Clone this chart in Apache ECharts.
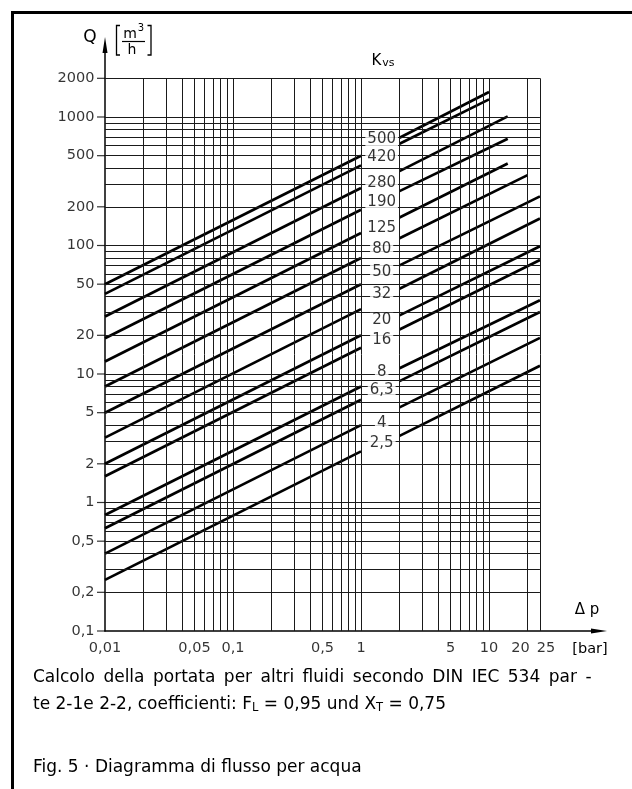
<!DOCTYPE html>
<html><head><meta charset="utf-8">
<script src="https://cdn.jsdelivr.net/npm/echarts@6/dist/echarts.min.js"></script>
<style>html,body{margin:0;padding:0;background:#fff}#c{width:632px;height:789px}</style>
</head><body><div id="c"></div>
<script>
// ---- data ----
const kvsLabels   = ['500','420','280','190','125','80','50','32','20','16','8','6,3','4','2,5'];
const leftDp      = [0.01, 1];
const leftQStart  = [50, 42, 28, 19, 12.5, 8, 5, 3.2, 2, 1.6, 0.8, 0.63, 0.4, 0.25];
const leftQEnd    = [500, 420, 280, 190, 125, 80, 50, 32, 20, 16, 8, 6.3, 4, 2.5];
const rightDpStart = 2;
const rightQStart = [690, 620, 379, 265, 165, 114, 70, 46, 28.6, 22.2, 11.1, 8.8, 5.5, 3.3];
const rightDpEnd  = [10, 10, 14, 14, 14, 20, 25, 25, 25, 25, 25, 25, 25, 25];
const rightQEnd   = [1563, 1372, 1011, 678, 434, 353, 241, 162, 98.6, 77, 37.5, 30.4, 19.1, 11.6];
const labelDp     = 1.45;
const labelQ      = [670, 486, 305, 216, 136, 93, 62, 41.8, 26.2, 18.3, 10.3, 7.48, 4.14, 2.9];

const xGrid = [0.02,0.03,0.04,0.05,0.06,0.07,0.08,0.09,0.1,0.2,0.3,0.4,0.5,0.6,0.7,0.8,0.9,1,2,3,4,5,6,7,8,9,10,20,25];
const yGrid = [0.2,0.3,0.4,0.5,0.6,0.7,0.8,0.9,1,2,3,4,5,6,7,8,9,10,20,30,40,50,60,70,80,90,100,200,300,400,500,600,700,800,900,1000,2000];
const xMin = 0.01, xGridMax = 25, yMin = 0.1, yGridMax = 2000;

const xTicks      = [0.01, 0.05, 0.1, 0.5, 1, 5, 10, 20, 25];
const xTickLabels = ['0,01','0,05','0,1','0,5','1','5','10','20','25'];
const yTicks      = [2000, 1000, 500, 200, 100, 50, 20, 10, 5, 2, 1, 0.5, 0.2, 0.1];
const yTickLabels = ['2000','1000','500','200','100','50','20','10','5','2','1','0,5','0,2','0,1'];

// ---- chart ----
const FONT = 'DejaVu Sans';
const chart = echarts.init(document.getElementById('c'), null, {renderer:'canvas'});
const xOffsets = {'20': -7, '25': 6};

const series = [];
const gridData = [];
xGrid.forEach(v => gridData.push([{coord:[v, yMin]}, {coord:[v, yGridMax]}]));
yGrid.forEach(v => gridData.push([{coord:[xMin, v]}, {coord:[xGridMax, v]}]));
series.push({
  type:'line', data:[[xMin, yMin]], showSymbol:false, silent:true, z:1,
  lineStyle:{width:0},
  markLine:{silent:true, symbol:['none','none'], animation:false, label:{show:false},
    lineStyle:{color:'#1a1a1a', width:1, type:'solid'}, emphasis:{disabled:true}, data:gridData}
});
kvsLabels.forEach((k, i) => {
  const ls = {color:'#000', width:2.7, cap:'butt'};
  series.push({type:'line', name:'L'+k, data:[[leftDp[0], leftQStart[i]], [leftDp[1], leftQEnd[i]]],
    showSymbol:false, silent:true, lineStyle:ls, z:3});
  series.push({type:'line', name:'R'+k, data:[[rightDpStart, rightQStart[i]], [rightDpEnd[i], rightQEnd[i]]],
    showSymbol:false, silent:true, lineStyle:ls, z:3});
});
series.push({
  type:'scatter', silent:true, z:5, symbolSize:1, itemStyle:{color:'rgba(0,0,0,0)'},
  data: kvsLabels.map((k, i) => ({value:[labelDp, labelQ[i]], name:k})),
  label:{show:true, position:'inside', formatter:p => p.name, color:'#000',
    fontFamily:FONT, fontSize:15, backgroundColor:'#fff', padding:[0,2]}
});
// y ticks and labels
series.push({
  type:'scatter', silent:true, z:4, symbol:'rect', symbolSize:[8,1.2], symbolOffset:[-4,0],
  itemStyle:{color:'#000'}, data: yTicks.map(v => [xMin, v])
});
series.push({
  type:'scatter', silent:true, z:4, symbolSize:1, itemStyle:{color:'rgba(0,0,0,0)'},
  data: yTicks.map((v, i) => ({value:[xMin, v], name:yTickLabels[i]})),
  label:{show:true, position:'left', distance:10, formatter:p => p.name, color:'#000',
    fontFamily:FONT, fontSize:14.5}
});
series.push({
  type:'scatter', silent:true, z:4, symbolSize:1, itemStyle:{color:'rgba(0,0,0,0)'},
  data: xTicks.map((v, i) => ({value:[v, yMin], name:xTickLabels[i],
    label:{offset:[xOffsets[xTickLabels[i]] || 0, 0]}})),
  label:{show:true, position:'bottom', distance:9, formatter:p => p.name, color:'#000',
    fontFamily:FONT, fontSize:14.5}
});

const line1 = 'Calcolo della portata per altri fluidi secondo DIN IEC 534 par -'.replace(/ /g, '\u2002');

chart.setOption({
  animation:false,
  backgroundColor:'#fff',
  grid:{left:105, top:45, width:494, height:586, containLabel:false},
  xAxis:{type:'log', logBase:10, min:xMin, max:72.3,
    axisLine:{show:true, onZero:false, symbol:['none','triangle'], symbolSize:[5,16],
      lineStyle:{color:'#000', width:1.5}},
    axisTick:{show:false}, axisLabel:{show:false}, splitLine:{show:false}},
  yAxis:{type:'log', logBase:10, min:yMin, max:3633,
    axisLine:{show:true, onZero:false, symbol:['none','triangle'], symbolSize:[5,16],
      lineStyle:{color:'#000', width:1.5}},
    axisTick:{show:false}, axisLabel:{show:false}, splitLine:{show:false}},
  series: series,
  graphic:[
    {type:'rect', shape:{x:12.5, y:12.5, width:900, height:1000}, style:{fill:'none', stroke:'#000', lineWidth:3}, silent:true},
    {type:'text', x:90, y:38, style:{text:'Q', font:'17px '+FONT, fill:'#000', align:'center', verticalAlign:'middle'}},
    {type:'polyline', shape:{points:[[120,25.5],[116.5,25.5],[116.5,55],[120,55]]}, style:{stroke:'#000', lineWidth:1.3, fill:'none'}},
    {type:'polyline', shape:{points:[[147.5,25.5],[151,25.5],[151,55],[147.5,55]]}, style:{stroke:'#000', lineWidth:1.3, fill:'none'}},
    {type:'line', shape:{x1:122, y1:41.5, x2:145, y2:41.5}, style:{stroke:'#000', lineWidth:1.2}},
    {type:'text', x:130, y:34, style:{text:'m', font:'14px '+FONT, fill:'#000', align:'center', verticalAlign:'middle'}},
    {type:'text', x:141, y:28, style:{text:'3', font:'10px '+FONT, fill:'#000', align:'center', verticalAlign:'middle'}},
    {type:'text', x:132, y:50, style:{text:'h', font:'14px '+FONT, fill:'#000', align:'center', verticalAlign:'middle'}},
    {type:'text', x:383, y:61, style:{text:'{k|K}{s|vs}', fill:'#000', align:'center', verticalAlign:'middle',
      rich:{k:{fontFamily:FONT, fontSize:15}, s:{fontFamily:FONT, fontSize:11, padding:[5,0,0,1]}}}},
    {type:'text', x:587, y:610, style:{text:'\u0394 p', font:'15px '+FONT, fill:'#000', align:'center', verticalAlign:'middle'}},
    {type:'text', x:590, y:649, style:{text:'[bar]', font:'14.5px '+FONT, fill:'#000', align:'center', verticalAlign:'middle'}},
    {type:'text', x:33, y:678, style:{text:line1, font:'17px '+FONT, fill:'#000', verticalAlign:'middle'}},
    {type:'text', x:33, y:705, style:{text:'te 2-1e 2-2, coefficienti: F{s|L} = 0,95 und X{s|T} = 0,75', fill:'#000', verticalAlign:'middle',
      fontFamily:FONT, fontSize:17, rich:{s:{fontFamily:FONT, fontSize:11.5, padding:[6,0,0,0]}}}},
    {type:'text', x:33, y:768, style:{text:'Fig. 5 \u00b7 Diagramma di flusso per acqua', font:'17px '+FONT, fill:'#000', verticalAlign:'middle'}}
  ]
});
</script></body></html>
